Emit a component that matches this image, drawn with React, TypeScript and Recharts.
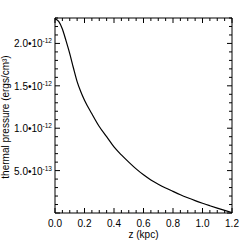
import { LineChart, Line, XAxis, YAxis } from 'recharts';

// z in kpc
const zValues = [
  0, 0.025, 0.05, 0.075, 0.1, 0.125, 0.15, 0.175, 0.2, 0.25, 0.3, 0.35, 0.4, 0.45, 0.5, 0.55, 0.6,
  0.65, 0.7, 0.75, 0.8, 0.85, 0.9, 0.95, 1.0, 1.05, 1.1, 1.15, 1.2,
];
// thermal pressure, in units of 1e-12 ergs/cm^3
const pressure = [
  2.29, 2.26, 2.17, 2.03, 1.88, 1.71, 1.55, 1.43, 1.33, 1.17, 1.02, 0.9, 0.78, 0.685, 0.6, 0.52, 0.45,
  0.39, 0.34, 0.295, 0.255, 0.216, 0.18, 0.146, 0.115, 0.086, 0.058, 0.031, 0.005,
];

const xTickLabels = ['0.0', '0.2', '0.4', '0.6', '0.8', '1.0', '1.2'];
const yLabelValues = [0.5, 1.0, 1.5, 2.0];
const yLabelMantissas = ['5.0', '1.0', '1.5', '2.0'];
const yLabelExponents = ['-13', '-12', '-12', '-12'];

const xTicks = Array.from({ length: 25 }, (_, i) => (i * 5) / 100);
const yTicks = Array.from({ length: 24 }, (_, i) => i / 10);

const data = zValues.map((z, i) => ({ z, p: pressure[i] }));

const font = '"Liberation Sans", Arial, Helvetica, sans-serif';

// ticks point inward, like the IDL box plot
const XTick = (props: any) => {
  const { x, y, payload, isTop } = props;
  const k = Math.round(payload.value * 100);
  const major = k % 20 === 0;
  const len = major ? 5 : 3;
  const dir = isTop ? 1 : -1;
  return (
    <g>
      <line x1={x} x2={x} y1={y} y2={y + dir * len} stroke="#000" strokeWidth={1} />
      {!isTop && major && (
        <text x={x} y={y + 14} textAnchor="middle" fontSize={10} fontFamily={font} fill="#000">
          {xTickLabels[k / 20]}
        </text>
      )}
    </g>
  );
};

const YTick = (props: any) => {
  const { x, y, payload, isRight } = props;
  const k = Math.round(payload.value * 10);
  const major = k % 5 === 0;
  const len = major ? 5 : 3;
  const dir = isRight ? -1 : 1;
  const li = yLabelValues.findIndex((v) => Math.round(v * 10) === k);
  return (
    <g>
      <line x1={x} x2={x + dir * len} y1={y} y2={y} stroke="#000" strokeWidth={1} />
      {!isRight && li >= 0 && (
        <text x={x - 3} y={y + 4} textAnchor="end" fontSize={10} fontFamily={font} fill="#000">
          {yLabelMantissas[li]}•10
          <tspan dy={-4} fontSize={6.5}>
            {yLabelExponents[li]}
          </tspan>
        </text>
      )}
    </g>
  );
};

export default function App() {
  return (
    <div style={{ position: 'absolute', left: 0, top: 0, background: '#fff' }}>
      <LineChart width={249} height={249} data={data} margin={{ top: 0, right: 0, bottom: 0, left: 0 }}>
        <XAxis
          dataKey="z"
          type="number"
          domain={[0, 1.2]}
          ticks={xTicks}
          interval={0}
          allowDataOverflow
          height={36}
          tickSize={0}
          tickMargin={0}
          tickLine={false}
          axisLine={{ stroke: '#000' }}
          tick={(p: any) => <XTick {...p} />}
          label={() => (
            <text x={143.5} y={238} textAnchor="middle" fontSize={10} fontFamily={font} fill="#000">
              z (kpc)
            </text>
          )}
        />
        <XAxis
          xAxisId="top"
          dataKey="z"
          orientation="top"
          type="number"
          domain={[0, 1.2]}
          ticks={xTicks}
          interval={0}
          allowDataOverflow
          height={18}
          tickSize={0}
          tickMargin={0}
          tickLine={false}
          axisLine={{ stroke: '#000' }}
          tick={(p: any) => <XTick {...p} isTop />}
        />
        <YAxis
          type="number"
          domain={[0, 2.3]}
          ticks={yTicks}
          interval={0}
          allowDataOverflow
          width={55}
          tickSize={0}
          tickMargin={0}
          tickLine={false}
          axisLine={{ stroke: '#000' }}
          tick={(p: any) => <YTick {...p} />}
          label={() => (
            <text
              transform="translate(9,117) rotate(-90)"
              textAnchor="middle"
              fontSize={10}
              fontFamily={font}
              fill="#000"
            >
              thermal pressure (ergs/cm³)
            </text>
          )}
        />
        <YAxis
          yAxisId="right"
          dataKey="p"
          orientation="right"
          type="number"
          domain={[0, 2.3]}
          ticks={yTicks}
          interval={0}
          allowDataOverflow
          width={17}
          tickSize={0}
          tickMargin={0}
          tickLine={false}
          axisLine={{ stroke: '#000' }}
          tick={(p: any) => <YTick {...p} isRight />}
        />
        <Line
          dataKey="p"
          type="monotone"
          stroke="#000"
          strokeWidth={1.2}
          dot={false}
          isAnimationActive={false}
        />
      </LineChart>
    </div>
  );
}
